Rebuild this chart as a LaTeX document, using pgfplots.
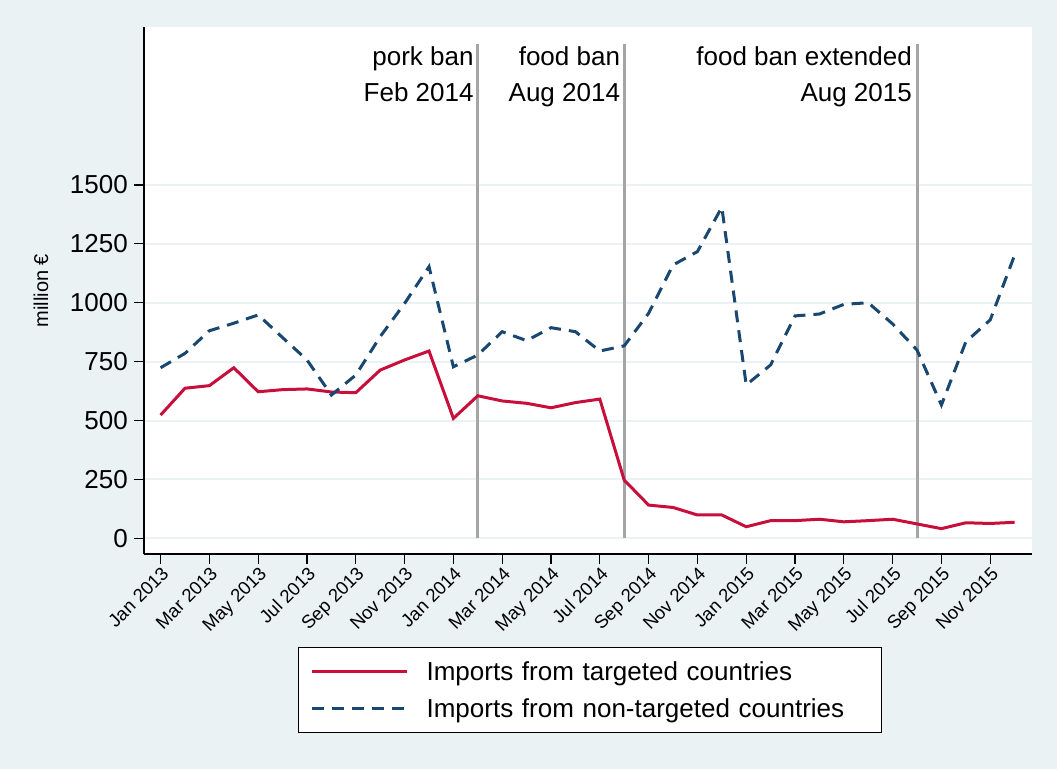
\documentclass[border=0pt]{standalone}
\usepackage{fontspec}
\setmainfont{Liberation Sans}
\usepackage{pgfplots}
\pgfplotsset{compat=1.18}
\definecolor{bgcol}{RGB}{234,242,243}
\definecolor{gridcol}{RGB}{234,242,243}
\definecolor{stred}{RGB}{200,14,58}
\definecolor{stnavy}{RGB}{26,71,111}
\definecolor{vgray}{RGB}{165,165,165}
\begin{document}
\begin{tikzpicture}[x=1pt,y=1pt]
\fill[bgcol] (0,0) rectangle (1057,769);
\begin{axis}[
 at={(144pt,215pt)}, anchor=south west,
 scale only axis, width=887.7pt, height=526.7pt,
 xmin=-0.68, xmax=35.7, ymin=-66.6, ymax=2169,
 axis x line*=bottom, axis y line*=left,
 axis line style={-, line width=1.5pt, black},
 axis background/.style={fill=white},
 xtick={0,2,...,34},
 xticklabels={Jan 2013,Mar 2013,May 2013,Jul 2013,Sep 2013,Nov 2013,Jan 2014,Mar 2014,May 2014,Jul 2014,Sep 2014,Nov 2014,Jan 2015,Mar 2015,May 2015,Jul 2015,Sep 2015,Nov 2015},
 ytick={0,250,...,1500},
 ymajorgrids, grid style={gridcol, line width=2pt},
 tick align=outside, major tick length=10pt,
 tick style={black, line width=1.3pt},
 x tick label style={rotate=45, anchor=north east, font=\fontsize{18.5}{22}\selectfont, inner sep=1pt},
 y tick label style={font=\fontsize{26}{31}\selectfont, inner sep=0pt, xshift=-6pt},
 /pgf/number format/assume math mode=true,
 /pgf/number format/set thousands separator={},
 ylabel={million €},
 ylabel style={at={(axis description cs:-0.1160,0.5)}, anchor=center, font=\fontsize{20}{24}\selectfont},
 legend image code/.code={\draw[#1] (0pt,0pt) -- (95pt,0pt);},
 legend cell align=left,
 legend style={at={(axis description cs:0.1735,-0.176)}, anchor=north west,
   draw=black, line width=1.2pt, fill=white,
   inner xsep=12pt, inner ysep=14.4pt, row sep=19pt, column sep=18pt,
   font=\fontsize{26}{31}\selectfont,
   nodes={inner sep=0pt, text height=18.6pt, text depth=0pt, text width=443pt, align=left}},
]
\addplot[vgray, line width=3pt, forget plot] coordinates {(13,0) (13,2100)};
\addplot[vgray, line width=3pt, forget plot] coordinates {(19,0) (19,2100)};
\addplot[vgray, line width=3pt, forget plot] coordinates {(31,0) (31,2100)};
\addplot[stred, line width=3pt] table {
x y
0 523
1 637
2 648
3 724
4 622
5 631
6 634
7 621
8 618
9 714
10 757
11 795
12 509
13 605
14 583
15 573
16 554
17 576
18 591
19 247
20 141
21 131
22 99
23 99
24 49
25 75
26 75
27 81
28 70
29 75
30 81
31 61
32 41
33 66
34 63
35 68
};
\addlegendentry{Imports from targeted countries}
\addplot[stnavy, line width=3pt, dash pattern=on 12pt off 8pt] table {
x y
0 724
1 785
2 881
3 913
4 948
5 852
6 757
7 608
8 693
9 856
10 997
11 1153
12 728
13 778
14 877
15 839
16 894
17 877
18 795
19 817
20 955
21 1160
22 1217
23 1405
24 651
25 736
26 944
27 952
28 993
29 1000
30 910
31 799
32 566
33 834
34 927
35 1202
};
\addlegendentry{Imports from non-targeted countries}
\node[anchor=base east, inner sep=0pt, xshift=-4pt, font=\fontsize{26}{31}\selectfont] at (axis cs:13,2005) {pork ban};
\node[anchor=base east, inner sep=0pt, xshift=-4pt, font=\fontsize{26}{31}\selectfont] at (axis cs:13,1853) {Feb 2014};
\node[anchor=base east, inner sep=0pt, xshift=-4pt, font=\fontsize{26}{31}\selectfont] at (axis cs:19,2005) {food ban};
\node[anchor=base east, inner sep=0pt, xshift=-4pt, font=\fontsize{26}{31}\selectfont] at (axis cs:19,1853) {Aug 2014};
\node[anchor=base east, inner sep=0pt, xshift=-5pt, font=\fontsize{26}{31}\selectfont] at (axis cs:31,2005) {food ban extended};
\node[anchor=base east, inner sep=0pt, xshift=-5pt, font=\fontsize{26}{31}\selectfont] at (axis cs:31,1853) {Aug 2015};
\end{axis}
\end{tikzpicture}
\end{document}
